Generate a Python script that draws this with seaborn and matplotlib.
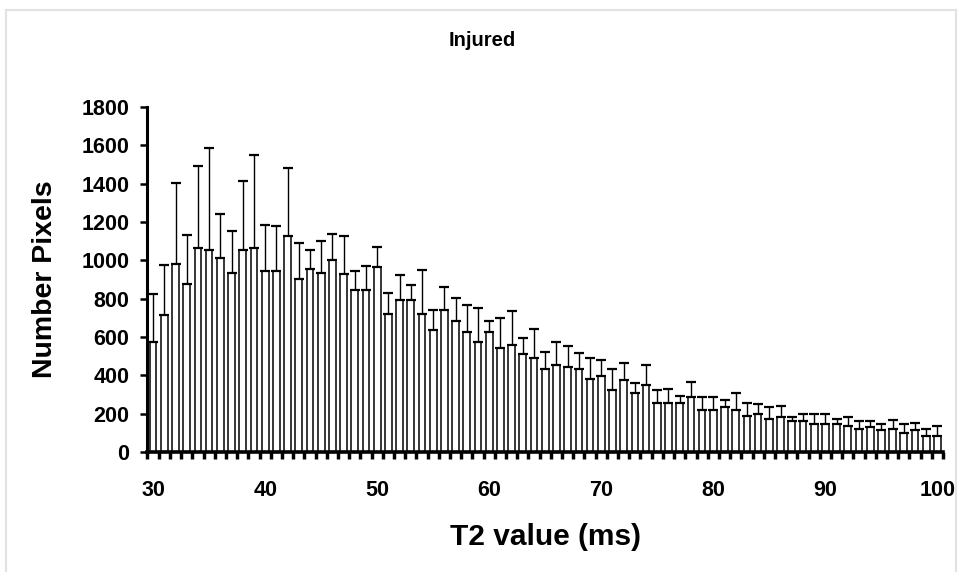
import numpy as np
import pandas as pd
import matplotlib
matplotlib.use("Agg")
import matplotlib.pyplot as plt
from matplotlib.patches import Rectangle
import seaborn as sns

# T2 bins (ms), mean pixel counts and SD (upper error only)
t2_values = list(range(30, 101))
mean_pixels = [574, 713, 979, 878, 1064, 1052, 1010, 936, 1052, 1064,
               944, 944, 1129, 904, 957, 936, 1002, 930, 847, 847,
               965, 722, 795, 795, 722, 638, 743, 685, 626, 574,
               626, 543, 560, 513, 492, 435, 456, 442, 435, 383,
               397, 323, 376, 310, 351, 257, 257, 257, 287, 219,
               219, 237, 219, 189, 197, 174, 181, 162, 162, 144,
               144, 144, 137, 122, 129, 115, 122, 99, 115, 83,
               83]
sd_pixels = [252, 261, 423, 256, 426, 534, 230, 215, 364, 487,
             240, 235, 353, 186, 97, 163, 134, 199, 96, 122,
             105, 109, 127, 75, 228, 105, 118, 117, 139, 176,
             59, 154, 176, 82, 148, 86, 120, 109, 80, 109,
             81, 112, 88, 50, 105, 65, 72, 37, 80, 68,
             68, 34, 89, 68, 52, 59, 59, 19, 36, 54,
             54, 30, 44, 40, 33, 29, 45, 45, 36, 39,
             54]
tick_labels = ["30", "40", "50", "60", "70", "80", "90", "100"]
y_ticks = [0, 200, 400, 600, 800, 1000, 1200, 1400, 1600, 1800]

df = pd.DataFrame({"t2": t2_values, "mean": mean_pixels, "sd": sd_pixels})

sns.set_style("ticks")
plt.rcParams['font.family'] = ['Liberation Sans', 'DejaVu Sans']

fig = plt.figure(figsize=(9.62, 5.72), dpi=100)
ax = fig.add_axes([147.5 / 962, 1 - 452 / 572, 795.5 / 962, 345 / 572])

sns.barplot(data=df, x="t2", y="mean", color="white", edgecolor="black",
            linewidth=1.1, width=0.6, errorbar=None, ax=ax, zorder=2)

pos = np.arange(len(t2_values))
ax.errorbar(pos, df["mean"], yerr=[np.zeros(len(df)), df["sd"]], fmt="none",
            ecolor="black", elinewidth=1.0, capsize=3.3, capthick=1.6, zorder=3)

ax.set_xlim(-0.5, len(t2_values) - 0.5)
ax.set_ylim(0, 1800)
ax.set_yticks(y_ticks)

# labels every 10 ms, tick marks on category boundaries
ax.set_xticks(np.arange(0, len(t2_values), 10))
ax.set_xticklabels(tick_labels)
ax.set_xticks(np.arange(-0.5, len(t2_values), 1), minor=True)
ax.tick_params(axis="x", which="major", length=0, pad=20, labelsize=15.5,
               labelcolor="black")
ax.tick_params(axis="x", which="minor", length=5, width=2.5, direction="out",
               color="black")
ax.tick_params(axis="y", length=5, width=1.8, direction="out", pad=8,
               labelsize=15.5, color="black", labelcolor="black")
for lab in ax.get_xticklabels() + ax.get_yticklabels():
    lab.set_fontweight("bold")

sns.despine(ax=ax)
ax.spines["left"].set_linewidth(2.2)
ax.spines["left"].set_color("black")
ax.spines["bottom"].set_linewidth(2.6)
ax.spines["bottom"].set_color("black")

ax.set_xlabel("T2 value (ms)", fontsize=21.5, fontweight="bold", va="center",
              color="black")
ax.xaxis.set_label_coords(0.5, -0.246)
ax.set_ylabel("Number Pixels", fontsize=20.5, fontweight="bold", va="center",
              color="black")
ax.yaxis.set_label_coords(-0.129, 0.5)

fig.suptitle("Injured", x=482 / 962, y=1 - 41 / 572, va="center",
             fontsize=14.5, fontweight="bold", color="black")

# light frame around the figure
fig.patches.append(Rectangle((6 / 962, -0.05), 950 / 962, 1 - 9.5 / 572 + 0.05,
                             transform=fig.transFigure, fill=False,
                             edgecolor="#e2e2e2", linewidth=1.5))

fig.savefig("out.png", dpi=100)
